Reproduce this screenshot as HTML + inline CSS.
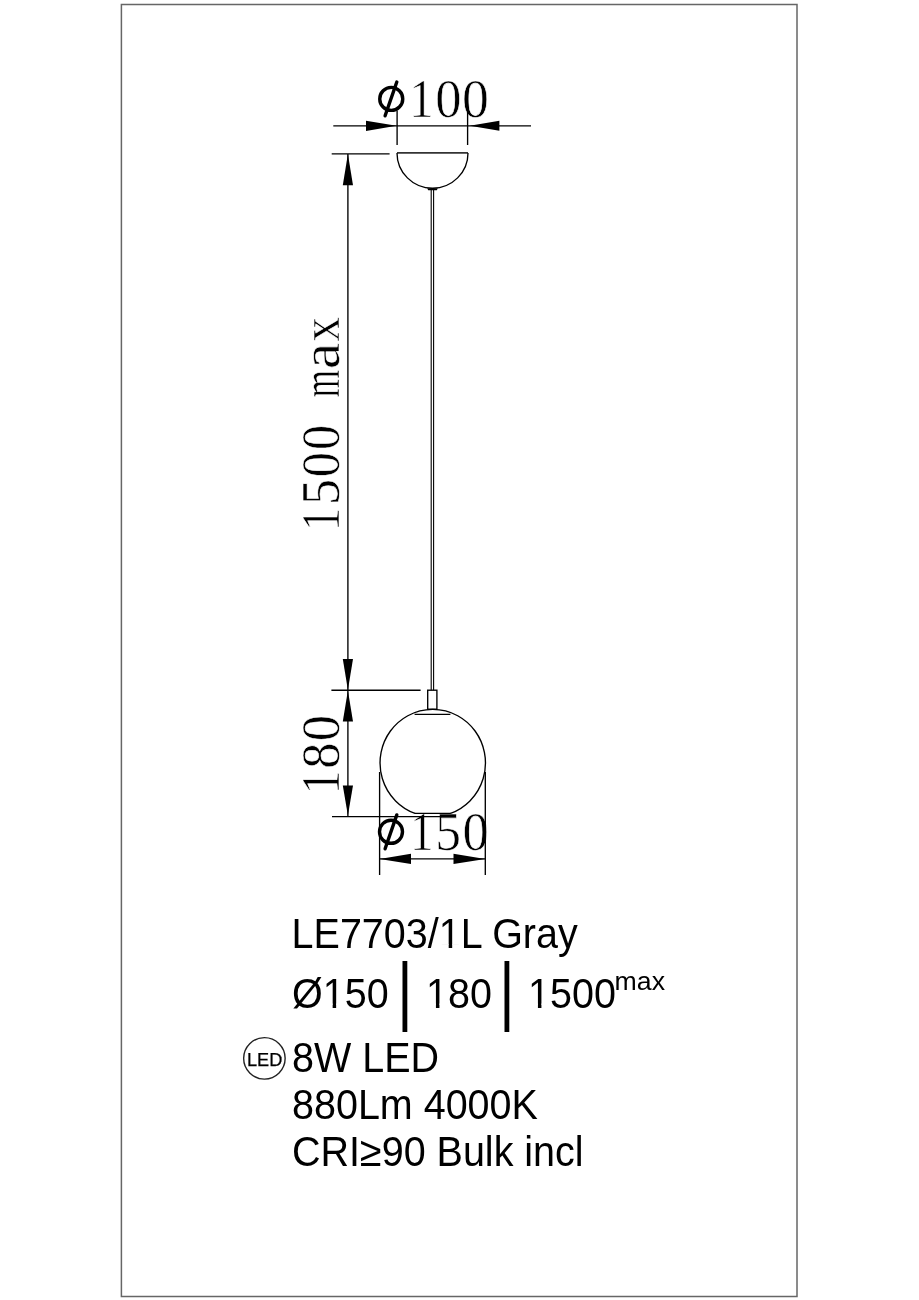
<!DOCTYPE html>
<html><head><meta charset="utf-8">
<style>
html,body{margin:0;padding:0;background:#fff;width:919px;height:1300px;overflow:hidden}
svg{display:block;will-change:transform}
.serif{font-family:"Liberation Serif",serif}
.sans{font-family:"Liberation Sans",sans-serif}
</style></head><body>
<svg width="919" height="1300" viewBox="0 0 919 1300">
<rect x="121.4" y="4.5" width="675.6" height="1292" fill="none" stroke="#666" stroke-width="1.5"/>

<g class="serif" font-size="55.2" fill="#000" stroke="#fff" stroke-width="0.6">
  <text transform="translate(422.10 117.20) scale(0.865 1.0)" x="-14.57">1</text>
  <text transform="translate(448.45 117.20) scale(0.953 1.0)" x="-13.80">0</text>
  <text transform="translate(475.50 117.20) scale(0.975 1.0)" x="-13.80">0</text>
  <text transform="translate(422.35 850.30) scale(0.839 1.0)" x="-14.57">1</text>
  <text transform="translate(448.55 850.30) scale(0.931 1.0)" x="-14.32">5</text>
  <text transform="translate(475.75 850.30) scale(0.953 1.0)" x="-13.80">0</text>
  <text transform="translate(339.00 518.80) rotate(-90) scale(0.834 1.0)" x="-14.57">1</text>
  <text transform="translate(339.00 491.45) rotate(-90) scale(0.940 1.0)" x="-14.32">5</text>
  <text transform="translate(339.00 464.65) rotate(-90) scale(0.910 1.0)" x="-13.80">0</text>
  <text transform="translate(339.00 437.55) rotate(-90) scale(0.910 1.0)" x="-13.80">0</text>
  <text transform="translate(339.00 383.65) rotate(-90) scale(0.643 1.0)" x="-21.62">m</text>
  <text transform="translate(339.00 355.35) rotate(-90) scale(1.087 1.0)" x="-12.85">a</text>
  <text transform="translate(339.00 329.45) rotate(-90) scale(0.881 1.0)" x="-13.71">x</text>
  <text transform="translate(338.90 781.75) rotate(-90) scale(0.859 1.0)" x="-14.57">1</text>
  <text transform="translate(338.90 755.60) rotate(-90) scale(0.949 1.0)" x="-13.80">8</text>
  <text transform="translate(338.90 728.20) rotate(-90) scale(0.949 1.0)" x="-13.80">0</text>
</g>
<g stroke="#000" fill="none" stroke-width="1.35">
  <line x1="333.3" y1="125.8" x2="531" y2="125.8"/>
  <line x1="397.1" y1="110.4" x2="397.1" y2="145"/>
  <line x1="467.6" y1="110.4" x2="467.6" y2="145"/>
  <line x1="397" y1="152.9" x2="468" y2="152.9" stroke="#333" stroke-width="1.8"/>
  <path d="M397 152.9 A35.5 35.3 0 0 0 468 152.9"/>
  <line x1="431.2" y1="188" x2="431.2" y2="690.2" stroke-width="1.1"/>
  <line x1="433.6" y1="188" x2="433.6" y2="690.2" stroke-width="1.1"/>
  <line x1="331.7" y1="153.9" x2="389.6" y2="153.9"/>
  <line x1="331.4" y1="690.2" x2="420.6" y2="690.2"/>
  <line x1="332" y1="816.6" x2="441" y2="816.6"/>
  <line x1="347.9" y1="153.9" x2="347.9" y2="816.6"/>
  <rect x="427.7" y="690.2" width="9.2" height="19"/>
  <path d="M415 813.4 A52.7 53.6 0 1 1 450.5 813.4"/>
  <line x1="414.6" y1="714.4" x2="450.4" y2="714.4" stroke-width="1.2"/>
  <line x1="414.6" y1="813.4" x2="450.9" y2="813.4"/>
  <line x1="379.6" y1="858.9" x2="485.3" y2="858.9"/>
  <line x1="379.6" y1="772" x2="379.6" y2="875"/>
  <line x1="485.3" y1="772" x2="485.3" y2="875"/>
</g>
<path d="M427.2 188.2 L437.8 188.2 L436.8 190.3 L428.2 190.3 Z" fill="#000"/>
<g fill="#000" stroke="none">
  <path d="M396.5 125.8 L366 120.7 L366 130.9 Z"/>
  <path d="M469.7 125.8 L499.4 120.8 L499.4 130.8 Z"/>
  <path d="M347.9 153.9 L342.8 185.3 L353 185.3 Z"/>
  <path d="M347.9 690 L342.8 659 L353 659 Z"/>
  <path d="M347.9 690.4 L342.8 721.5 L353 721.5 Z"/>
  <path d="M347.9 815.5 L342.8 785.6 L353 785.6 Z"/>
  <path d="M379.6 858.9 L411 853.8 L411 864 Z"/>
  <path d="M485.3 858.9 L453.5 853.8 L453.5 864 Z"/>
</g>
<g stroke="#000" fill="none" stroke-width="3.4" stroke-linecap="round">
  <ellipse cx="391.25" cy="98.9" rx="11.5" ry="11.5"/>
  <line x1="396.8" y1="82" x2="385.1" y2="115.8"/>
  <ellipse cx="391" cy="831.8" rx="11.5" ry="11.5"/>
  <line x1="396.8" y1="814.9" x2="385.1" y2="848.8"/>
</g>


<g class="sans" font-size="39.5" fill="#000">
  <g transform="translate(291.6 948) scale(1 1.06)"><text x="0" y="0">LE7703/1L Gray</text><rect fill="#fff" x="149.17" y="-3.65" width="7.92" height="4.35"/><rect fill="#fff" x="160.58" y="-3.65" width="7.92" height="4.35"/></g>
  <g transform="translate(292 1007.5) scale(1 1.06)"><text x="0" y="0">Ø150</text><rect fill="#fff" x="32.73" y="-3.65" width="7.92" height="4.35"/><rect fill="#fff" x="44.14" y="-3.65" width="7.92" height="4.35"/></g>
  <g transform="translate(426 1007.5) scale(1 1.06)"><text x="0" y="0">180</text><rect fill="#fff" x="2.01" y="-3.65" width="7.92" height="4.35"/><rect fill="#fff" x="13.42" y="-3.65" width="7.92" height="4.35"/></g>
  <g transform="translate(528 1007.5) scale(1 1.06)"><text x="0" y="0">1500</text><rect fill="#fff" x="2.01" y="-3.65" width="7.92" height="4.35"/><rect fill="#fff" x="13.42" y="-3.65" width="7.92" height="4.35"/></g>
  <g transform="translate(292 1071.7) scale(1 1.06)"><text x="0" y="0">8W LED</text></g>
  <g transform="translate(292 1118.5) scale(1 1.06)"><text x="0" y="0">880Lm 4000K</text></g>
  <g transform="translate(292 1165.5) scale(1 1.06)"><text x="0" y="0">CRI≥90 Bulk incl</text></g>
</g>
<text class="sans" font-size="26.7" x="614.6" y="990">max</text>
<g fill="#000">
  <rect x="402.5" y="961" width="4.8" height="71"/>
  <rect x="504.5" y="961" width="4.8" height="71"/>
</g>
<circle cx="264.4" cy="1058.35" r="20.75" fill="none" stroke="#222" stroke-width="1.4"/>
<text class="sans" font-size="18.2" x="246.9" y="1065.6" fill="#000" stroke="#000" stroke-width="0.25">LED</text>
</svg>
</body></html>
